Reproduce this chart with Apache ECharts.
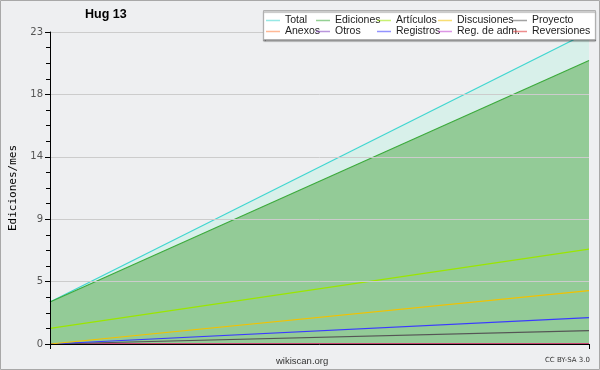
<!DOCTYPE html>
<html><head><meta charset="utf-8">
<script src="https://cdn.jsdelivr.net/npm/echarts@6/dist/echarts.min.js"></script>
<style>html,body{margin:0;padding:0;background:#eeeff1}#c{width:600px;height:370px}</style>
</head><body><div id="c"></div>
<script>
const categories = ['2019-01', '2019-02'];
const total = [3.1, 23];
const ediciones = [3.1, 20.9];
const articulos = [1.15, 7.0];
const discusiones = [0, 3.93];
const proyecto = [0, 0.98];
const anexos = [0, 0];
const otros = [0, 0];
const registros = [0, 1.94];
const regAdm = [0, 0];
const reversiones = [0, 0];
const yTickLabels = [0, 5, 9, 14, 18, 23];

const names = ['Total','Ediciones','Artículos','Discusiones','Proyecto','Anexos','Otros','Registros','Reg. de adm.','Reversiones'];
const colors = {
  'Total':'#3fd6d0','Ediciones':'#3caa3c','Artículos':'#9be600','Discusiones':'#f2c200','Proyecto':'#555555',
  'Anexos':'#ff7f3f','Otros':'#7f3fbf','Registros':'#3a3aff','Reg. de adm.':'#c040d0','Reversiones':'#e03030'
};
const dataMap = {
  'Total':total,'Ediciones':ediciones,'Artículos':articulos,'Discusiones':discusiones,'Proyecto':proyecto,
  'Anexos':anexos,'Otros':otros,'Registros':registros,'Reg. de adm.':regAdm,'Reversiones':reversiones
};
const drawOrder = ['Total','Ediciones','Anexos','Otros','Reg. de adm.','Reversiones','Proyecto','Registros','Discusiones','Artículos'];

const series = drawOrder.map((n, i) => {
  const s = {
    name: n, type: 'line', data: dataMap[n], showSymbol: false, symbol: 'none',
    lineStyle: { color: colors[n], width: 1.2 }, itemStyle: { color: colors[n] },
    z: 2 + i, animation: false
  };
  if (n === 'Total') s.areaStyle = { color: '#d8f0ea', opacity: 1 };
  if (n === 'Ediciones') s.areaStyle = { color: '#93cb97', opacity: 1 };
  return s;
});

const cols = [[0,5],[1,6],[2,7],[3,8],[4,9]];
const colLeft = [266, 316, 377, 438, 513];
const legends = cols.map((c, i) => ({
  z: 100, zlevel: 1, padding: 0,
  orient: 'vertical', left: colLeft[i], top: 15, itemGap: 0,
  itemWidth: 14, itemHeight: 1.5, icon: 'rect', selectedMode: false,
  textStyle: { fontSize: 10.5, lineHeight: 11, color: '#222', fontFamily: 'Liberation Sans' },
  data: c.map(k => ({ name: names[k], itemStyle: { color: colors[names[k]], opacity: 0.55 } }))
}));

const chart = echarts.init(document.getElementById('c'), null, { renderer: 'canvas' });
chart.setOption({
  backgroundColor: '#eeeff1',
  animation: false,
  grid: { left: 47, right: 11, top: 32, bottom: 26 },
  title: { text: 'Hug 13', left: 85, top: 8, padding: 0, textStyle: { fontSize: 12.5, fontWeight: 'bold', color: '#000', fontFamily: 'Liberation Sans' } },
  legend: legends,
  xAxis: {
    type: 'category', data: categories, boundaryGap: false, z: 30,
    axisLine: { lineStyle: { color: '#000', width: 1 } },
    axisTick: { show: true, length: 5, lineStyle: { color: '#000' } },
    axisLabel: { show: false }, splitLine: { show: false }
  },
  yAxis: {
    type: 'value', min: 0, max: 23, interval: 4.6, z: 30,
    name: 'Ediciones/mes', nameLocation: 'middle', nameGap: 31, nameRotate: 90,
    nameTextStyle: { fontSize: 11, color: '#000', fontFamily: 'DejaVu Sans Mono' },
    axisLine: { show: true, lineStyle: { color: '#000', width: 1 } },
    axisTick: { show: true, length: 5, lineStyle: { color: '#000' } },
    minorTick: { show: true, splitNumber: 4, length: 4, lineStyle: { color: '#000' } },
    axisLabel: { fontSize: 10, color: '#555', margin: 7, fontFamily: 'DejaVu Sans',
      formatter: v => { const r = Math.round(v / 4.6); return String(yTickLabels[r]); } },
    splitLine: { show: true, lineStyle: { color: '#cccccc', width: 1 } }
  },
  graphic: [
    { type: 'rect', z: -10, silent: true, shape: { x: 0.5, y: 0.5, width: 599, height: 369 }, style: { fill: 'none', stroke: '#a8a8a8', lineWidth: 1 } },
    { type: 'rect', z: 50, silent: true, shape: { x: 263.5, y: 10.5, width: 332, height: 29 },
      style: { fill: '#ffffff', stroke: '#b0b0b0', lineWidth: 1, shadowColor: 'rgba(0,0,0,0.45)', shadowOffsetY: 1.5, shadowOffsetX: 0, shadowBlur: 1 } },
    { type: 'text', z: 60, left: 276, top: 356, style: { text: 'wikiscan.org', fontSize: 9.5, fill: '#333', fontFamily: 'Liberation Sans' } },
    { type: 'text', z: 60, right: 10, top: 357, style: { text: 'CC BY-SA 3.0', fontSize: 7, fill: '#333', fontFamily: 'DejaVu Sans' } }
  ],
  series: series
});
</script></body></html>
